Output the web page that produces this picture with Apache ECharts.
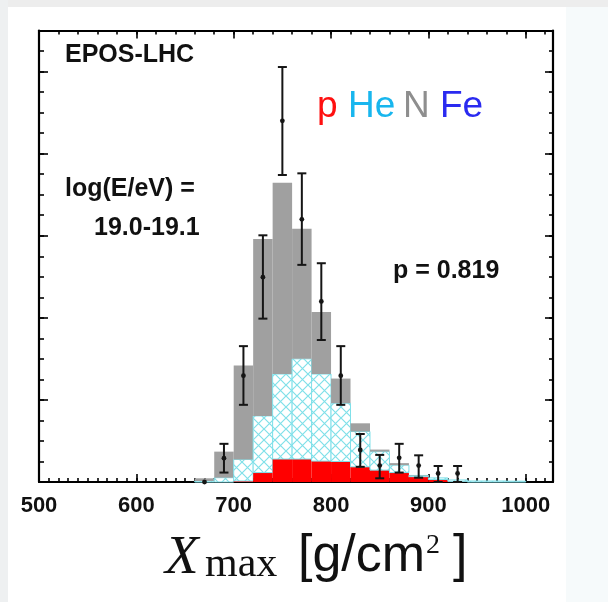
<!DOCTYPE html>
<html><head><meta charset="utf-8">
<script src="https://cdn.jsdelivr.net/npm/echarts/dist/echarts.min.js"></script>
<style>html,body{margin:0;padding:0;background:#f6fafb}#c{width:608px;height:602px}</style>
</head><body><div id="c"></div>
<script>
// ---- data (y in arbitrary count units) ----
const binWidth = 20;
const binLow  = [660, 680, 700, 720, 740, 760, 780, 800, 820, 840, 860, 880, 900, 920, 940, 960, 980];
const pVals   = [0,   0,   0.25, 2.3, 5.6, 5.6, 5.1, 5.0, 3.7, 2.9, 2.3, 1.3, 0.6, 0.15, 0,   0,   0];
const heVals  = [0.25,1.05,5.25,13.8,20.7,24.4,21.2,14.2, 8.6, 4.5, 1.8, 0.3, 0.4, 0.35, 0.25,0.25,0.2];
const nVals   = [0.65,6.35,22.9,43.1,46.6,31.7,15.1, 6.0, 2.0, 0.5, 0.5, 0.1, 0,   0,    0,   0,   0];
const feVals  = [0,   0,   0,   0,   0,   0,   0,   0,   0,   0,   0,   0,   0,   0,    0,   0,   0];

const dataX  = [670, 690, 710, 730, 750, 770, 790, 810, 830, 850, 870, 890, 910, 930];
const dataY  = [0,   5.8, 25.9,49.9,88.0,64.0,44.0,25.9, 7.8, 4.0, 5.9, 4.0, 2.1, 2.1];
const dataLo = [0,   2.3, 18.8,39.8,74.8,52.9,34.6,18.8, 3.7, 0.9, 2.3, 1.05,0,   0];
const dataHi = [0,   9.3, 33.1,60.1,101.1,75.2,53.3,33.1,11.7,6.6, 9.3, 6.5, 3.9, 3.9];

const xTickLabels = [500, 600, 700, 800, 900, 1000];
const legendNames = ['p', 'He', 'N', 'Fe'];
const legendColors = ['#ff1010', '#18b6ee', '#8e8e8e', '#2a2af0'];

// ---- hatch pattern ----
function makeHatch() {
  const c = document.createElement('canvas');
  c.width = 11; c.height = 11;
  const g = c.getContext('2d');
  g.fillStyle = '#ffffff'; g.fillRect(0, 0, 11, 11);
  g.strokeStyle = '#80e0e9'; g.lineWidth = 1.2;
  g.beginPath();
  g.moveTo(0, 0); g.lineTo(11, 11);
  g.moveTo(11, 0); g.lineTo(0, 11);
  g.stroke();
  return c;
}
const hatch = { image: makeHatch(), repeat: 'repeat' };

const histData = binLow.map((x, i) => [x, pVals[i], heVals[i], nVals[i], feVals[i]]);
const errData = dataX.map((x, i) => [x, dataY[i], dataLo[i], dataHi[i]]);

const chart = echarts.init(document.getElementById('c'), null, { renderer: 'canvas' });

const gridRect = { left: 39, top: 30.5, width: 514, height: 451.5 };
const XMIN = 500, XMAX = 1028, YMIN = 0, YMAX = 110;

function xAx(grid, pos, interval, tickLen, major) {
  return {
    type: 'value', gridIndex: grid, position: pos, min: XMIN, max: XMAX, interval: interval,
    axisLine: { show: major, onZero: false, lineStyle: { color: '#000', width: 2.2 } },
    axisTick: { show: true, inside: true, length: tickLen, lineStyle: { color: '#000', width: 1.6 } },
    axisLabel: (major && pos === 'bottom') ? {
      show: true, margin: 13, color: '#111', fontSize: 22, fontWeight: 'bold', fontFamily: 'Liberation Sans',
      formatter: v => (xTickLabels.indexOf(v) >= 0 ? String(v) : '')
    } : { show: false },
    splitLine: { show: false }
  };
}
function yAx(grid, pos, interval, tickLen, major) {
  return {
    type: 'value', gridIndex: grid, position: pos, min: YMIN, max: YMAX, interval: interval,
    axisLine: { show: major, onZero: false, lineStyle: { color: '#000', width: 2.2 } },
    axisTick: { show: true, inside: true, length: tickLen, lineStyle: { color: '#000', width: 1.6 } },
    axisLabel: { show: false },
    splitLine: { show: false }
  };
}

const option = {
  backgroundColor: '#f6fafb',
  animation: false,
  grid: [Object.assign({}, gridRect), Object.assign({}, gridRect)],
  xAxis: [
    xAx(0, 'bottom', 100, 8, true),
    xAx(0, 'top', 100, 8, true),
    xAx(1, 'bottom', 10, 4, false),
    xAx(1, 'top', 20, 4, false)
  ],
  yAxis: [
    yAx(0, 'left', 20, 9, true),
    yAx(0, 'right', 20, 8, true),
    yAx(1, 'left', 5, 5, false),
    yAx(1, 'right', 5, 4, false)
  ],
  series: [
    {
      type: 'custom', xAxisIndex: 0, yAxisIndex: 0, z: 2,
      data: histData,
      renderItem: function (params, api) {
        const x0 = api.value(0), x1 = x0 + binWidth;
        const layers = [
          { v: api.value(1), fill: '#ff0000', stroke: null },
          { v: api.value(2), fill: hatch, stroke: '#80e0e9' },
          { v: api.value(3), fill: '#a0a0a0', stroke: null },
          { v: api.value(4), fill: '#2a2af0', stroke: null }
        ];
        let base = 0;
        const children = [];
        layers.forEach(L => {
          if (L.v > 0) {
            const a = api.coord([x0, base + L.v]);
            const b = api.coord([x1, base]);
            const st = { fill: L.fill };
            if (L.stroke) { st.stroke = L.stroke; st.lineWidth = 1; } else { st.stroke = null; }
            children.push({ type: 'rect', shape: { x: a[0], y: a[1], width: b[0] - a[0], height: b[1] - a[1] }, style: st });
            base += L.v;
          }
        });
        return { type: 'group', children: children };
      }
    },
    {
      type: 'custom', xAxisIndex: 0, yAxisIndex: 0, z: 5,
      data: errData,
      renderItem: function (params, api) {
        const x = api.value(0);
        const p = api.coord([x, api.value(1)]);
        const lo = api.coord([x, api.value(2)]);
        const hi = api.coord([x, api.value(3)]);
        const cap = 4.5;
        const ls = { stroke: '#151515', lineWidth: 2 };
        const ch = [];
        if (hi[1] < lo[1] - 0.5) {
          ch.push({ type: 'line', shape: { x1: p[0], y1: lo[1], x2: p[0], y2: hi[1] }, style: ls });
          ch.push({ type: 'line', shape: { x1: p[0] - cap, y1: lo[1], x2: p[0] + cap, y2: lo[1] }, style: ls });
          ch.push({ type: 'line', shape: { x1: p[0] - cap, y1: hi[1], x2: p[0] + cap, y2: hi[1] }, style: ls });
        }
        ch.push({ type: 'circle', shape: { cx: p[0], cy: p[1], r: 2.4 }, style: { fill: '#151515' } });
        return { type: 'group', children: ch };
      }
    }
  ],
  graphic: [
    { type: 'rect', z: -100, silent: true, shape: { x: 0, y: 0, width: 608, height: 7 }, style: { fill: '#ededed' } },
    { type: 'rect', z: -100, silent: true, shape: { x: 0, y: 0, width: 8, height: 602 }, style: { fill: '#eef0f1' } },
    { type: 'rect', z: -100, silent: true, shape: { x: 8, y: 7, width: 558, height: 595 }, style: { fill: '#ffffff' } },
    { type: 'text', z: 100, x: 65, y: 55, style: { text: 'EPOS-LHC', font: 'bold 25px "Liberation Sans"', fill: '#111', verticalAlign: 'middle', align: 'left' } },
    { type: 'text', z: 100, x: 65, y: 189, style: { text: 'log(E/eV) =', font: 'bold 25px "Liberation Sans"', fill: '#111', verticalAlign: 'middle', align: 'left' } },
    { type: 'text', z: 100, x: 94, y: 228, style: { text: '19.0-19.1', font: 'bold 25px "Liberation Sans"', fill: '#111', verticalAlign: 'middle', align: 'left' } },
    { type: 'text', z: 100, x: 393, y: 271, style: { text: 'p = 0.819', font: 'bold 25px "Liberation Sans"', fill: '#111', verticalAlign: 'middle', align: 'left' } },
    { type: 'text', z: 100, x: 317, y: 107, style: { text: legendNames[0], font: '37px "Liberation Sans"', fill: legendColors[0], verticalAlign: 'middle', align: 'left' } },
    { type: 'text', z: 100, x: 348, y: 107, style: { text: legendNames[1], font: '37px "Liberation Sans"', fill: legendColors[1], verticalAlign: 'middle', align: 'left' } },
    { type: 'text', z: 100, x: 403, y: 107, style: { text: legendNames[2], font: '37px "Liberation Sans"', fill: legendColors[2], verticalAlign: 'middle', align: 'left' } },
    { type: 'text', z: 100, x: 440, y: 107, style: { text: legendNames[3], font: '37px "Liberation Sans"', fill: legendColors[3], verticalAlign: 'middle', align: 'left' } },
    // axis title: X_max [g/cm^2 ]
    { type: 'text', z: 100, x: 165, y: 559, style: { text: 'X', font: 'italic 55px "Liberation Serif"', fill: '#111', verticalAlign: 'middle', align: 'left' } },
    { type: 'text', z: 100, x: 205, y: 565, style: { text: 'max', font: '42px "Liberation Serif"', fill: '#111', verticalAlign: 'middle', align: 'left' } },
    { type: 'text', z: 100, x: 298, y: 557, style: { text: '[g/cm', font: '52px "Liberation Sans"', fill: '#111', verticalAlign: 'middle', align: 'left' } },
    { type: 'text', z: 100, x: 426, y: 546, style: { text: '2', font: '28px "Liberation Serif"', fill: '#111', verticalAlign: 'middle', align: 'left' } },
    { type: 'text', z: 100, x: 453, y: 557, style: { text: ']', font: '52px "Liberation Sans"', fill: '#111', verticalAlign: 'middle', align: 'left' } }
  ]
};
chart.setOption(option);
</script>
</body></html>
